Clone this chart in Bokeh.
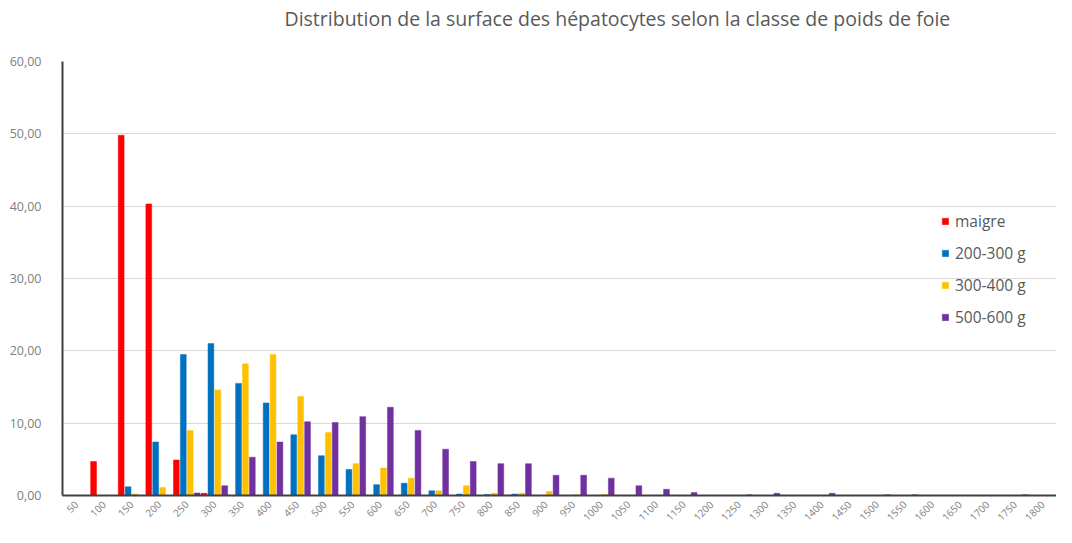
from bokeh.plotting import figure
from bokeh.models import FactorRange, Range1d, ColumnDataSource, Legend, LegendItem, FixedTicker
from bokeh.transform import dodge
from bokeh.embed import file_html
from bokeh.resources import INLINE
import math

categories = [str(v) for v in range(50, 1801, 50)]

maigre = [0, 4.7, 49.8, 40.3, 4.9, 0.3] + [0] * 30
g200_300 = [0, 0, 1.2, 7.4, 19.5, 21.0, 15.5, 12.8, 8.4, 5.5, 3.6, 1.5, 1.7, 0.65, 0.2, 0.15, 0.2] + [0] * 19
g300_400 = [0, 0, 0.2, 1.1, 9.0, 14.6, 18.2, 19.5, 13.7, 8.7, 4.4, 3.8, 2.4, 0.65, 1.35, 0.3, 0.3,
            0.55, 0.1, 0.15] + [0] * 16
g500_600 = [0, 0, 0, 0, 0.35, 1.35, 5.3, 7.4, 10.2, 10.1, 10.9, 12.2, 9.0, 6.4, 4.7, 4.4, 4.4,
            2.8, 2.8, 2.4, 1.35, 0.85, 0.4, 0, 0.1, 0.3, 0, 0.3, 0, 0.1, 0.1, 0, 0, 0, 0.1, 0]

title_text = "Distribution de la surface des hépatocytes selon la classe de poids de foie"
series_names = ["maigre", "200-300 g", "300-400 g", "500-600 g"]
series_values = [maigre, g200_300, g300_400, g500_600]
colors = ["#FF0000", "#0070C0", "#FFC000", "#7030A0"]
y_ticks = [0, 10, 20, 30, 40, 50, 60]
y_tick_labels = ["0,00", "10,00", "20,00", "30,00", "40,00", "50,00", "60,00"]

src = ColumnDataSource(dict(cat=categories, s0=maigre, s1=g200_300, s2=g300_400, s3=g500_600))

p = figure(x_range=FactorRange(*categories, range_padding=0), y_range=Range1d(0, 60),
           width=1056, height=527, output_backend="svg", toolbar_location=None,
           min_border_left=62, min_border_right=0, min_border_top=59, min_border_bottom=28)

# trailing empty line lifts the title towards the top edge
p.title.text = title_text + "\n "
p.title.text_font = "Open Sans"
p.title.text_font_size = "19.5px"
p.title.text_font_style = "normal"
p.title.text_color = "#595959"
p.title.align = "left"
p.title.offset = 222
p.title.standoff = 5

offsets = [-0.375, -0.125, 0.125, 0.375]
items = []
for i, (name, col) in enumerate(zip(series_names, colors)):
    r = p.vbar(x=dodge("cat", offsets[i], range=p.x_range), top="s%d" % i, width=0.21,
               source=src, fill_color=col, line_color=col, line_width=0.5)
    items.append(LegendItem(label=name, renderers=[r]))

legend = Legend(items=items, location=(879, 167), border_line_color=None,
                background_fill_alpha=0, padding=0, margin=0, spacing=10,
                label_text_font="Open Sans", label_text_font_size="15.5px",
                label_text_color="#595959", glyph_width=8, glyph_height=8, label_height=20,
                label_standoff=6)
p.add_layout(legend)

p.outline_line_color = None
p.xgrid.grid_line_color = None
p.ygrid.grid_line_color = "#D9D9D9"
p.ygrid.grid_line_width = 1

p.yaxis.ticker = FixedTicker(ticks=y_ticks)
p.yaxis.major_label_overrides = {t: l for t, l in zip(y_ticks, y_tick_labels)}
p.yaxis.axis_line_color = "#404040"
p.yaxis.axis_line_width = 2
p.yaxis.major_tick_line_color = None
p.yaxis.minor_tick_line_color = None
p.yaxis.major_label_text_font = "Open Sans"
p.yaxis.major_label_text_font_size = "12.5px"
p.yaxis.major_label_text_color = "#808080"
p.yaxis.major_label_standoff = 15

p.xaxis.axis_line_color = "#404040"
p.xaxis.axis_line_width = 2
p.xaxis.major_tick_line_color = None
p.xaxis.minor_tick_line_color = None
p.xaxis.major_label_text_font = "Open Sans"
p.xaxis.major_label_text_font_size = "10px"
p.xaxis.major_label_text_color = "#808080"
p.xaxis.major_label_orientation = math.pi / 4
p.xaxis.major_label_standoff = 1

open("out.html", "w").write(file_html(p, INLINE))
